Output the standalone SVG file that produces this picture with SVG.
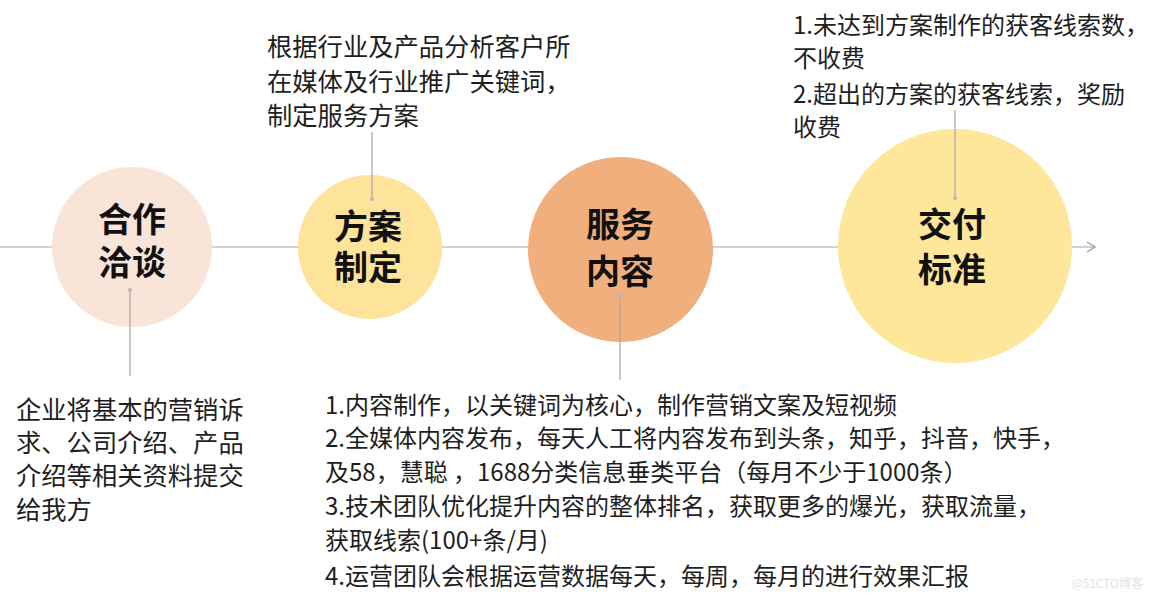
<svg xmlns="http://www.w3.org/2000/svg" width="1150" height="599" viewBox="0 0 1150 599">
<style>
.t{font-family:"Microsoft YaHei","Noto Sans CJK SC",sans-serif;font-size:24px;fill:#1e1e1e}
.big{font-size:25.3px}
.h{font-family:"Noto Sans CJK SC",sans-serif;font-size:34px;font-weight:bold;fill:#111;text-anchor:middle}
.c{stroke:#a6a6a6;stroke-width:1.2;fill:none}
.d{fill:#b8b8b8}
</style>
<defs>
<marker id="arr" markerWidth="12" markerHeight="12" refX="10" refY="6" orient="auto" markerUnits="userSpaceOnUse">
<path d="M2,1 L10,6 L2,11" fill="none" stroke="#999" stroke-width="1.2"/>
</marker>
</defs>
<rect width="1150" height="599" fill="#fff"/>
<g id="axis">
<line class="c" x1="0" y1="247" x2="1095" y2="247" marker-end="url(#arr)"/>
</g>
<g id="node1">
<circle cx="132" cy="247" r="80" fill="#f9e4d8"/>
<text class="h"><tspan x="132" y="232">合作</tspan><tspan x="132" y="275">洽谈</tspan></text>
</g>
<g id="node2">
<circle cx="370" cy="247" r="72" fill="#fde49a"/>
<text class="h"><tspan x="368" y="239">方案</tspan><tspan x="368" y="280">制定</tspan></text>
</g>
<g id="node3">
<circle cx="620.5" cy="249.5" r="92.5" fill="#f2af7e"/>
<text class="h"><tspan x="620" y="237">服务</tspan><tspan x="620" y="284">内容</tspan></text>
</g>
<g id="node4">
<circle cx="955" cy="246" r="117" fill="#fee69b"/>
<text class="h"><tspan x="952" y="237">交付</tspan><tspan x="952" y="282">标准</tspan></text>
</g>
<g id="connectors">
<line class="c" x1="130" y1="290" x2="130" y2="376"/>
<line class="c" x1="372" y1="132" x2="372" y2="199"/>
<line class="c" x1="620" y1="296" x2="620" y2="380"/>
<line class="c" x1="955" y1="110" x2="955" y2="198"/>
<circle class="d" cx="130" cy="290" r="2"/>
<circle class="d" cx="372" cy="199" r="2"/>
<circle class="d" cx="620" cy="296" r="2.5"/>
<circle class="d" cx="955" cy="198" r="2"/>
</g>
<g id="text1">
<text class="t big" x="16" y="419">企业将基本的营销诉</text>
<text class="t big" x="16" y="452">求、公司介绍、产品</text>
<text class="t big" x="16" y="485">介绍等相关资料提交</text>
<text class="t big" x="16" y="519">给我方</text>
</g>
<g id="text2">
<text class="t big" x="267" y="56">根据行业及产品分析客户所</text>
<text class="t big" x="267" y="91">在媒体及行业推广关键词，</text>
<text class="t big" x="267" y="125">制定服务方案</text>
</g>
<g id="text3">
<text class="t" x="793" y="34">1.未达到方案制作的获客线索数，</text>
<text class="t" x="793" y="67">不收费</text>
<text class="t" x="793" y="103">2.超出的方案的获客线索，奖励</text>
<text class="t" x="793" y="136">收费</text>
</g>
<g id="text4">
<text class="t" x="325" y="414">1.内容制作，以关键词为核心，制作营销文案及短视频</text>
<text class="t" x="325" y="447">2.全媒体内容发布，每天人工将内容发布到头条，知乎，抖音，快手，</text>
<text class="t" x="325" y="481">及58，慧聪 ，1688分类信息垂类平台（每月不少于1000条）</text>
<text class="t" x="325" y="515">3.技术团队优化提升内容的整体排名，获取更多的爆光，获取流量，</text>
<text class="t" x="325" y="549">获取线索(100+条/月)</text>
<text class="t" x="325" y="585">4.运营团队会根据运营数据每天，每周，每月的进行效果汇报</text>
</g>
<text x="1143" y="588" text-anchor="end" style="font-family:'Noto Sans CJK SC',sans-serif;font-size:12px;fill:#e2e2e2">@51CTO博客</text>
</svg>
